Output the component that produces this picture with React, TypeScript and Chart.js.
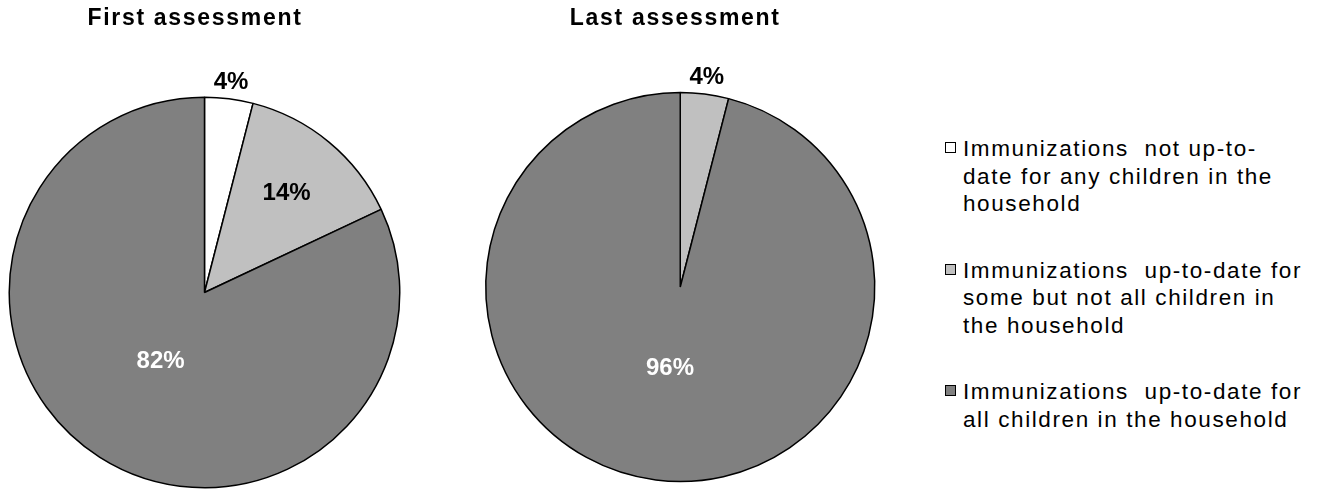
import React, { useEffect, useRef } from "react";
import { Chart, registerables } from "chart.js";

Chart.register(...registerables);

const categories = [
  "Immunizations not up-to-date for any children in the household",
  "Immunizations up-to-date for some but not all children in the household",
  "Immunizations up-to-date for all children in the household",
];
const legendLines = [
  ["Immunizations  not up-to-", "date for any children in the", "household"],
  ["Immunizations  up-to-date for", "some but not all children in", "the household"],
  ["Immunizations  up-to-date for", "all children in the household"],
];
const firstValues = [4, 14, 82];
const lastValues = [0, 4, 96];
const sliceColors = ["#FFFFFF", "#C0C0C0", "#808080"];
const chartTitles = ["First assessment", "Last assessment"];

const FONT = '"Liberation Sans", Arial, Helvetica, sans-serif';

const titlePlugin = {
  id: "sideTitle",
  afterDraw(chart: any, _args: any, opts: any) {
    const ctx = chart.ctx;
    const area = chart.chartArea;
    ctx.save();
    ctx.font = `bold 23px ${FONT}`;
    (ctx as any).letterSpacing = "1.7px";
    ctx.fillStyle = "#000";
    ctx.textAlign = "center";
    ctx.textBaseline = "middle";
    ctx.fillText(opts.text, (area.left + area.right) / 2 + (opts.dx || 0), opts.y);
    ctx.restore();
  },
};

const pctPlugin = {
  id: "pctLabels",
  afterDatasetsDraw(chart: any) {
    const ctx = chart.ctx;
    const meta = chart.getDatasetMeta(0);
    const data = chart.data.datasets[0].data as number[];
    meta.data.forEach((arc: any, i: number) => {
      const v = data[i];
      if (!v) return;
      const p = arc.getProps(["x", "y", "startAngle", "endAngle", "outerRadius"], true);
      const mid = (p.startAngle + p.endAngle) / 2;
      let d: number;
      let color = "#000";
      if (v < 8) {
        d = p.outerRadius + 17;
      } else if (v < 50) {
        d = p.outerRadius * 0.66;
      } else {
        d = p.outerRadius * 0.42;
        color = "#FFFFFF";
      }
      ctx.save();
      ctx.font = `bold 24px ${FONT}`;
      ctx.fillStyle = color;
      ctx.textAlign = "center";
      ctx.textBaseline = "middle";
      ctx.fillText(`${v}%`, p.x + Math.cos(mid) * d, p.y + Math.sin(mid) * d);
      ctx.restore();
    });
  },
};

function PieCanvas(props: {
  values: number[];
  title: string;
  width: number;
  height: number;
  padding: { left: number; right: number; top: number; bottom: number };
  titleDx: number;
  titleY: number;
}) {
  const ref = useRef<HTMLCanvasElement | null>(null);
  useEffect(() => {
    if (!ref.current) return;
    const chart = new Chart(ref.current, {
      type: "pie",
      data: {
        labels: categories,
        datasets: [
          {
            data: props.values,
            backgroundColor: sliceColors,
            borderColor: "#000000",
            borderWidth: 1.5,
          },
        ],
      },
      options: {
        responsive: false,
        animation: false,
        devicePixelRatio: 1,
        rotation: 0,
        layout: { padding: props.padding },
        plugins: {
          legend: { display: false },
          tooltip: { enabled: false },
          title: { display: false },
          sideTitle: { text: props.title, dx: props.titleDx, y: props.titleY },
        } as any,
      },
      plugins: [pctPlugin, titlePlugin],
    });
    return () => chart.destroy();
  }, []);
  return (
    <canvas
      ref={ref}
      width={props.width}
      height={props.height}
      style={{ width: props.width, height: props.height, display: "block" }}
    />
  );
}

export default function App() {
  return (
    <div
      style={{
        position: "absolute",
        left: 0,
        top: 0,
        width: 1321,
        height: 489,
        background: "#fff",
        overflow: "hidden",
      }}
    >
      <div style={{ position: "absolute", left: 0, top: 0 }}>
        <PieCanvas
          values={firstValues}
          title={chartTitles[0]}
          width={430}
          height={489}
          padding={{ left: 8.5, right: 29.5, top: 96.5, bottom: 0.5 }}
          titleDx={-9.5}
          titleY={18.7}
        />
      </div>
      <div style={{ position: "absolute", left: 460, top: 0 }}>
        <PieCanvas
          values={lastValues}
          title={chartTitles[1]}
          width={440}
          height={489}
          padding={{ left: 25, right: 24.5, top: 91.75, bottom: 6.75 }}
          titleDx={-5}
          titleY={18.7}
        />
      </div>
      <div
        style={{
          position: "absolute",
          left: 945,
          top: 135,
          display: "flex",
          flexDirection: "column",
          gap: 39,
          fontFamily: FONT,
          fontSize: 22.5,
          lineHeight: "27.5px",
          letterSpacing: "1.6px",
          color: "#000",
        }}
      >
        {legendLines.map((lines, i) => (
          <div key={i} style={{ position: "relative", paddingLeft: 18 }}>
            <div
              style={{
                position: "absolute",
                left: 0,
                top: 7,
                width: 9,
                height: 9,
                border: "1px solid #000",
                background: sliceColors[i],
              }}
            />
            {lines.map((ln, j) => (
              <div key={j} style={{ whiteSpace: "pre" }}>
                {ln}
              </div>
            ))}
          </div>
        ))}
      </div>
    </div>
  );
}
